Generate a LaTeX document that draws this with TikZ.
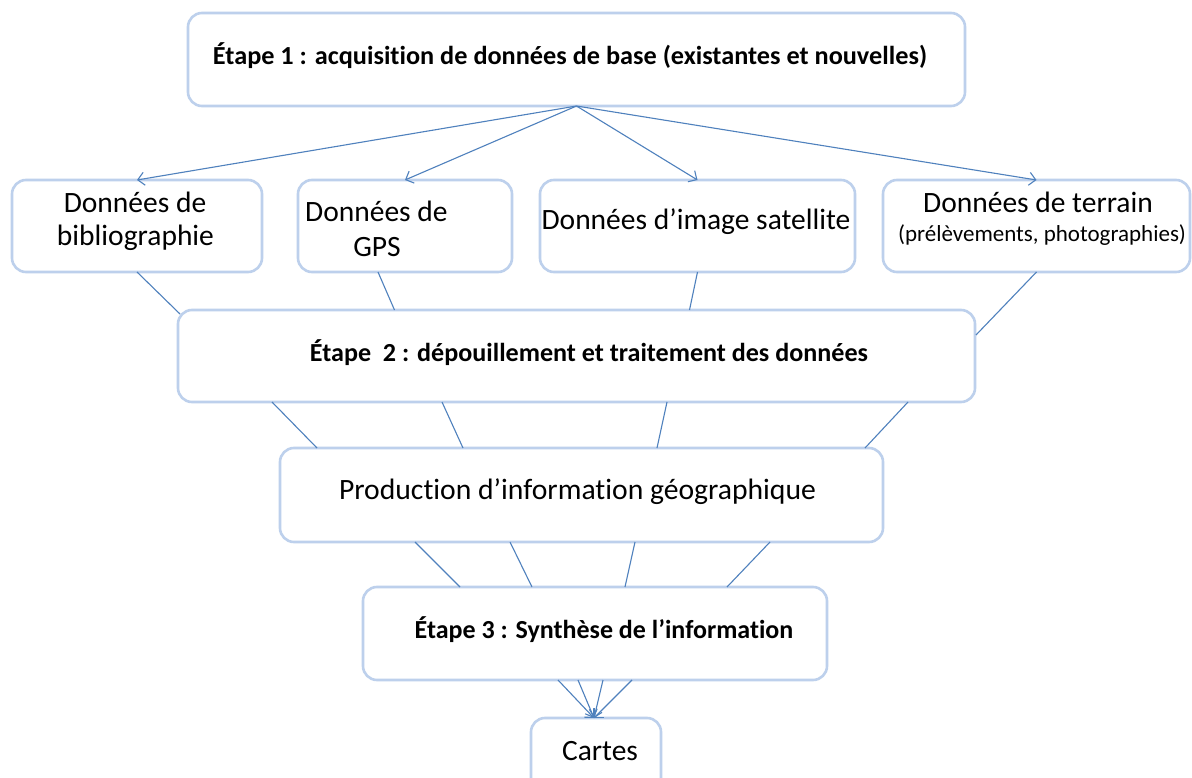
\documentclass[tikz,border=0pt]{standalone}
\usepackage{fontspec}
\setmainfont{Carlito}[RawFeature={-liga;-clig}]
\usetikzlibrary{arrows.meta,calc}
\definecolor{boxline}{RGB}{189,208,236}
\definecolor{connc}{RGB}{79,129,189}
\newcommand{\fitw}[2]{\resizebox{#1}{\height}{#2}}
\begin{document}
\begin{tikzpicture}[x=1pt,y=-1pt,
  box/.style={draw=boxline, line width=2.6pt, rounded corners=14pt, fill=white, inner sep=0pt, outer sep=0pt},
  link/.style={draw=connc, line width=1.1pt},
  arr/.style={link, -{Straight Barb[length=6.5pt,width=13pt]}},
  reg/.style={inner sep=0pt, anchor=base, font=\fontsize{29.5}{34}\selectfont},
  small/.style={inner sep=0pt, anchor=base, font=\fontsize{23}{27}\selectfont},
  bld/.style={inner sep=0pt, anchor=base, font=\fontsize{26}{30}\selectfont\bfseries},
]
\clip (0,0) rectangle (1192,778);
\fill[white] (0,0) rectangle (1192,778);

% boxes
\node[box, minimum width=777pt, minimum height=93pt] (top) at (576.5,59.5) {};
\node[box, minimum width=250pt, minimum height=92pt] (bib) at (137,226) {};
\node[box, minimum width=214pt, minimum height=92pt] (gps) at (405,226) {};
\node[box, minimum width=315pt, minimum height=92pt] (sat) at (697.5,226) {};
\node[box, minimum width=307pt, minimum height=92pt] (ter) at (1036.5,226) {};
\node[box, minimum width=797pt, minimum height=92pt] (s2) at (576.5,356) {};
\node[box, minimum width=603pt, minimum height=94pt] (prod) at (581.5,495) {};
\node[box, minimum width=464pt, minimum height=93pt] (s3) at (595,633.5) {};
\node[box, minimum width=130pt, minimum height=92pt] (cartes) at (596,764) {};

% texts
\node[bld] (t1) at (570,65) {\fitw{714pt}{Étape 1 : acquisition de données de base (existantes et nouvelles)}};
\node[reg] (bibA) at (135,213) {Données de};
\node[reg] (bibB) at (135.5,246) {bibliographie};
\node[reg, anchor=base west] (gpsA) at (305,222) {Données de};
\node[reg] (gpsB) at (377,257) {GPS};
\node[reg] (satA) at (696,230) {Données d’image satellite};
\node[reg] (terA) at (1038,213) {Données de terrain};
\node[small] (terB) at (1042,242) {(prélèvements, photographies)};
\node[bld] (t2) at (589,361) {\fitw{558pt}{Étape\ \ 2 : dépouillement et traitement des données}};
\node[reg] (tprod) at (577.5,499) {\fitw{477pt}{Production d’information géographique}};
\node[bld] (t3) at (604,638) {Étape 3 : Synthèse de l’information};
\node[reg] (tcartes) at (600,760) {Cartes};

% arrows from step 1
\draw[arr] (top.south) -- (bib.north);
\draw[arr] (top.south) -- (gps.north);
\draw[arr] (top.south) -- (sat.north);
\draw[arr] (top.south) -- (ter.north);

% row 2 to step 2
\draw[link] (bib.south) -- ([shift={(2pt,-4pt)}]s2.north west);
\draw[link] ([xshift=-27pt]gps.south) -- ([xshift=-182pt]s2.north);
\draw[link] (sat.south) -- ([xshift=113pt]s2.north);
\draw[link] (ter.south) -- ([shift={(1pt,-25pt)}]s2.north east);

% step 2 to production
\draw[link] ([xshift=-304.5pt]s2.south) -- ([xshift=-264.5pt]prod.north);
\draw[link] ([xshift=-134.5pt]s2.south) -- ([xshift=-118.5pt]prod.north);
\draw[link] ([xshift=90.5pt]s2.south) -- ([xshift=75.5pt]prod.north);
\draw[link] ([xshift=331.5pt]s2.south) -- ([xshift=283.5pt]prod.north);

% production to step 3
\draw[link] ([xshift=-166.5pt]prod.south) -- ([xshift=-135pt]s3.north);
\draw[link] ([xshift=-71.5pt]prod.south) -- ([xshift=-63pt]s3.north);
\draw[link] ([xshift=53.5pt]prod.south) -- ([xshift=30pt]s3.north);
\draw[link] ([xshift=188.5pt]prod.south) -- ([xshift=132pt]s3.north);

% step 3 to cartes
\draw[arr] ([xshift=-37pt]s3.south) -- ([xshift=-2pt]cartes.north);
\draw[arr] ([xshift=-17pt]s3.south) -- ([xshift=-2pt]cartes.north);
\draw[arr] ([xshift=8pt]s3.south) -- ([xshift=-2pt]cartes.north);
\draw[arr] ([xshift=37pt]s3.south) -- ([xshift=-2pt]cartes.north);
\end{tikzpicture}
\end{document}
